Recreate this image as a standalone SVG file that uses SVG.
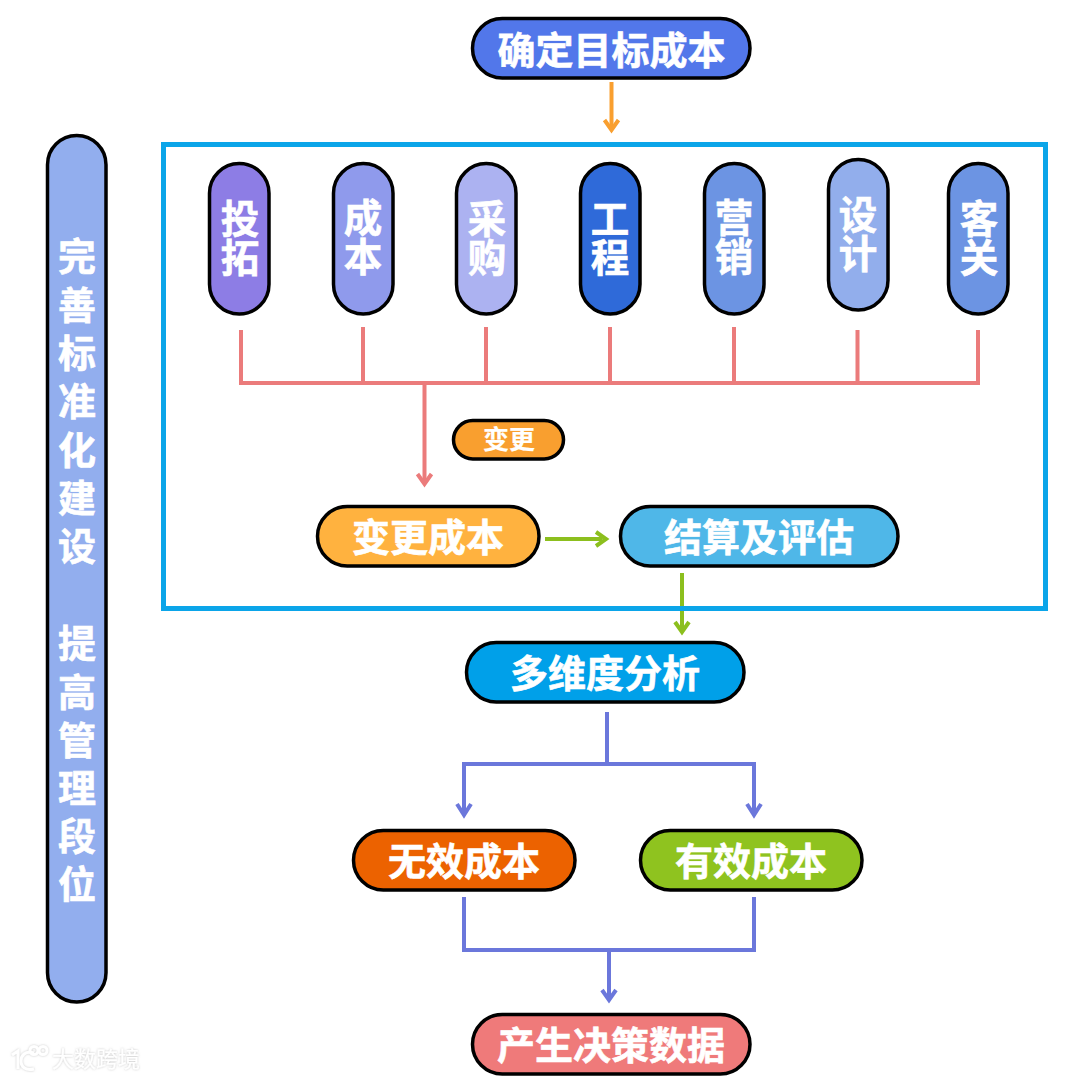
<svg xmlns="http://www.w3.org/2000/svg" width="1080" height="1080" viewBox="0 0 1080 1080">
<style>
.n{stroke:#000;stroke-width:3.5}
text{font-family:"Noto Sans CJK SC","Noto Sans",sans-serif;font-weight:700;fill:#fff;text-anchor:middle;stroke:#fff;stroke-width:.6}
.h{font-size:38px}
.v{font-size:38.500px}
.c{fill:none;stroke-width:4}
.r{stroke:#EB7B7B}.g{stroke:#8CBF1E}.b{stroke:#6B77DB}.o{stroke:#F99F2F}
</style>
<defs><filter id="soft" x="-10%" y="-30%" width="120%" height="160%"><feDropShadow dx="0" dy="0" stdDeviation="1.200" flood-color="#999" flood-opacity=".55"/></filter></defs>
<rect width="1080" height="1080" fill="#fff"/>
<g id="connectors">
<g class="c o"><path d="M611.500 82V128"/><path d="M604.500 120L611.500 130L618.500 120"/></g>
<g class="c r"><path d="M241 330V383H978V330M363 327V383M486 327V383M610 327V383M734 327V383M857.500 330V383M424.500 383V483"/><path d="M417.500 474L424.500 484L431.500 474"/></g>
<g class="c g"><path d="M545 539H602"/><path d="M596 532L606 539L596 546"/><path d="M682 573V630"/><path d="M675 622L682 632L689 622"/></g>
<g class="c b"><path d="M607 712V764M464 812V764H754V812"/><path d="M457 804L464 815L471 804M747 804L754 815L761 804"/><path d="M464 897V950H754V897M609 950V997"/><path d="M602 990L609 1000L616 990"/></g>
</g>
<g id="frame"><rect x="163.500" y="144.500" width="882" height="464" fill="none" stroke="#0BA5E9" stroke-width="5"/></g>
<g id="n-target"><rect class="n" x="472.500" y="18.500" width="277.500" height="59.500" rx="29.750" fill="#5277EA"/><text class="h" x="611.500" y="63.500">确定目标成本</text></g>
<g id="n-side"><rect class="n" x="47.500" y="135.500" width="58.500" height="866.500" rx="29.250" fill="#92AEEE"/>
<text class="h"><tspan x="77" y="270">完</tspan><tspan x="77" y="319">善</tspan><tspan x="77" y="367">标</tspan><tspan x="77" y="415">准</tspan><tspan x="77" y="464">化</tspan><tspan x="77" y="512">建</tspan><tspan x="77" y="560">设</tspan><tspan x="77" y="657">提</tspan><tspan x="77" y="706">高</tspan><tspan x="77" y="754">管</tspan><tspan x="77" y="802">理</tspan><tspan x="77" y="850">段</tspan><tspan x="77" y="898">位</tspan></text></g>
<g id="n-tuotuo"><rect class="n" x="209.500" y="163.500" width="59.500" height="150.500" rx="29.750" fill="#8D7DE5"/><text class="v"><tspan x="240" y="233">投</tspan><tspan x="240" y="272">拓</tspan></text></g>
<g id="n-chengben"><rect class="n" x="333.500" y="163.500" width="59.500" height="150.500" rx="29.750" fill="#8F9AEC"/><text class="v"><tspan x="363" y="232">成</tspan><tspan x="363" y="271">本</tspan></text></g>
<g id="n-caigou"><rect class="n" x="456.500" y="163.500" width="59.500" height="150.500" rx="29.750" fill="#ACB2F1"/><text class="v"><tspan x="487" y="233">采</tspan><tspan x="487" y="272">购</tspan></text></g>
<g id="n-gongcheng"><rect class="n" x="580.500" y="163.500" width="59.500" height="150.500" rx="29.750" fill="#2F6AD9"/><text class="v"><tspan x="610" y="233">工</tspan><tspan x="610" y="272">程</tspan></text></g>
<g id="n-yingxiao"><rect class="n" x="704.500" y="163.500" width="59.500" height="150.500" rx="29.750" fill="#6C94E3"/><text class="v"><tspan x="734" y="232">营</tspan><tspan x="734" y="271">销</tspan></text></g>
<g id="n-sheji"><rect class="n" x="828.500" y="159.500" width="59.500" height="150.500" rx="29.750" fill="#92AEEC"/><text class="v"><tspan x="858" y="229">设</tspan><tspan x="858" y="268">计</tspan></text></g>
<g id="n-kefu"><rect class="n" x="948.500" y="163.500" width="59.500" height="150.500" rx="29.750" fill="#6C94E3"/><text class="v"><tspan x="979" y="233">客</tspan><tspan x="979" y="272">关</tspan></text></g>
<g id="n-change"><rect class="n" x="453.500" y="420.500" width="110" height="38.500" rx="19.250" fill="#F99F2F"/><text x="509" y="449" style="font-size:26px;stroke-width:.2">变更</text></g>
<g id="n-changecost"><rect class="n" x="317.500" y="506.500" width="221.500" height="59.500" rx="29.750" fill="#FFB23F"/><text class="h" x="428" y="551">变更成本</text></g>
<g id="n-settle"><rect class="n" x="620.500" y="506.500" width="277.500" height="59.500" rx="29.750" fill="#4FB7E8"/><text class="h" x="759" y="551">结算及评估</text></g>
<g id="n-multi"><rect class="n" x="466.500" y="642.500" width="277.500" height="59.500" rx="29.750" fill="#00A0E9"/><text class="h" x="605" y="687">多维度分析</text></g>
<g id="n-invalid"><rect class="n" x="353.500" y="830.500" width="221.500" height="59.500" rx="29.750" fill="#EC6200"/><text class="h" x="464" y="875">无效成本</text></g>
<g id="n-valid"><rect class="n" x="640.500" y="830.500" width="221.500" height="59.500" rx="29.750" fill="#8FC31F"/><text class="h" x="751" y="875">有效成本</text></g>
<g id="n-data"><rect class="n" x="472.500" y="1014.500" width="277.500" height="59.500" rx="29.750" fill="#EF7A7A"/><text class="h" x="611" y="1059">产生决策数据</text></g>
<g id="watermark" filter="url(#soft)"><g fill="none" stroke="#fff" stroke-width="3"><path d="M12 1055L18 1051V1069"/><path d="M34 1053C25 1050 21 1056 21 1061C21 1067 26 1071 34 1069"/><circle cx="34" cy="1050.500" r="4"/><circle cx="43" cy="1050.500" r="4"/></g><text x="96" y="1067" style="font-size:22px;font-weight:400;stroke-width:.2">大数跨境</text></g>
</svg>
